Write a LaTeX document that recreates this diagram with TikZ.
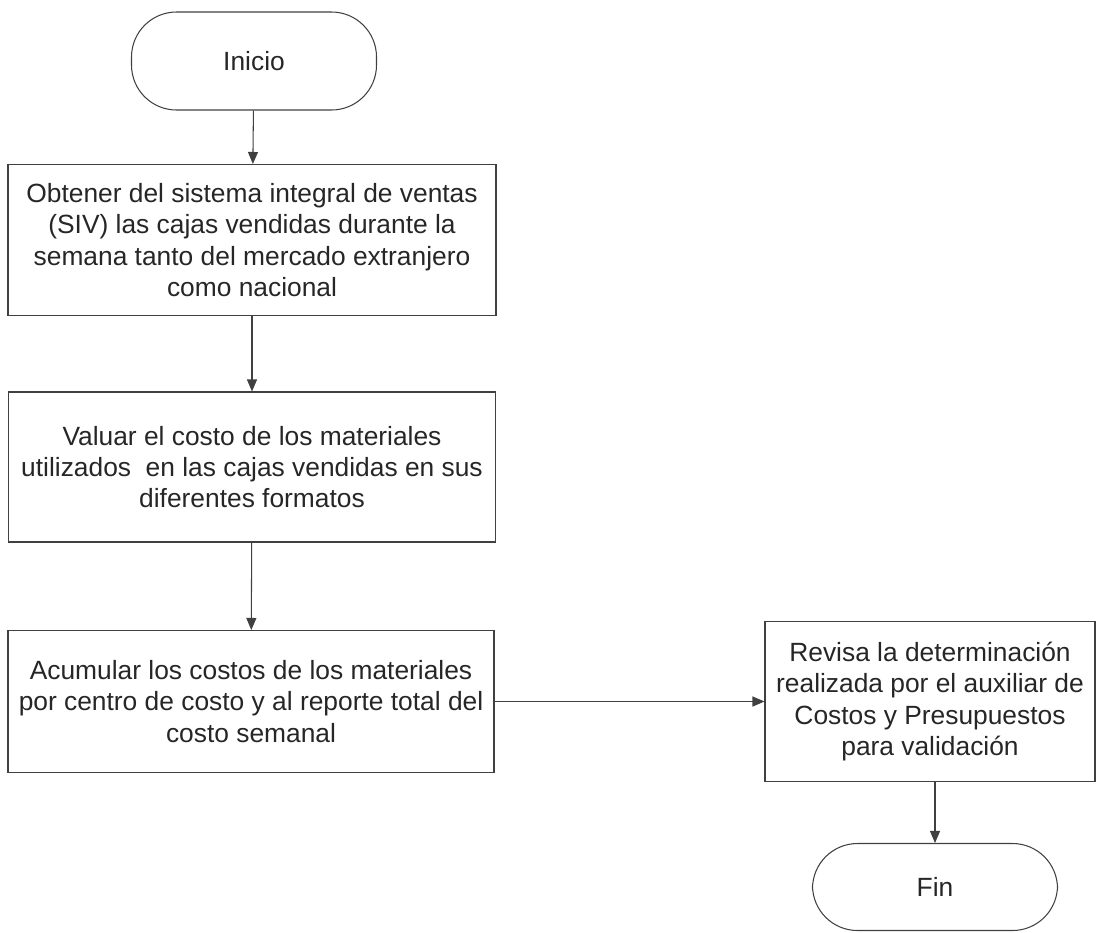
\documentclass[tikz,border=0pt]{standalone}
\usepackage{fontspec}
\setmainfont{Liberation Sans}
\usepackage{tikz}
\usetikzlibrary{arrows.meta}

\begin{document}
\begin{tikzpicture}[
    proceso/.style={draw=black!75, line width=0.6pt, rectangle, align=center, inner sep=0pt,
        font=\fontsize{15}{17.8}\selectfont, text=black!85},
    terminal/.style={draw=black!75, line width=0.6pt, rectangle, rounded corners=0.9cm,
        minimum width=4.9cm, font=\fontsize{15}{17.8}\selectfont, text=black!85},
    flecha/.style={draw=black!75, line width=0.6pt, -{Triangle[length=0.24cm, width=0.2cm]}}
]
            \useasboundingbox (0,0) rectangle (21.92,-18.64);

            % Inicio
            \node[terminal, minimum height=1.96cm] (inicio) at (5.08, -1.22) {Inicio};

            % Pasos del proceso (columna izquierda)
            \node[proceso, minimum width=9.76cm, minimum height=3.02cm] (obtener) at (5.04, -4.8)
                {Obtener del sistema integral de ventas\\(SIV) las cajas vendidas durante la\\semana tanto del mercado extranjero\\como nacional};
            \node[proceso, minimum width=9.74cm, minimum height=3.0cm] (valuar) at (5.04, -9.34)
                {Valuar el costo de los materiales\\utilizados\ \ en las cajas vendidas en sus\\diferentes formatos};
            \node[proceso, minimum width=9.72cm, minimum height=2.84cm] (acumular) at (5.02, -14.03)
                {Acumular los costos de los materiales\\por centro de costo y al reporte total del\\costo semanal};

            % Revision (columna derecha)
            \node[proceso, minimum width=6.6cm, minimum height=3.2cm] (revisa) at (18.6, -14.03)
                {Revisa la determinación\\realizada por el auxiliar de\\Costos y Presupuestos\\para validación};

            % Fin
            \node[terminal, minimum height=1.74cm] (fin) at (18.7, -17.74) {Fin};

            % Flechas
            \draw[flecha] (inicio) -- (obtener);
            \draw[flecha] (obtener) -- (valuar);
            \draw[flecha] (valuar) -- (acumular);
            \draw[flecha] (acumular) -- (revisa);
            \draw[flecha] (revisa.south -| fin.north) -- (fin.north);
        \end{tikzpicture}
\end{document}
